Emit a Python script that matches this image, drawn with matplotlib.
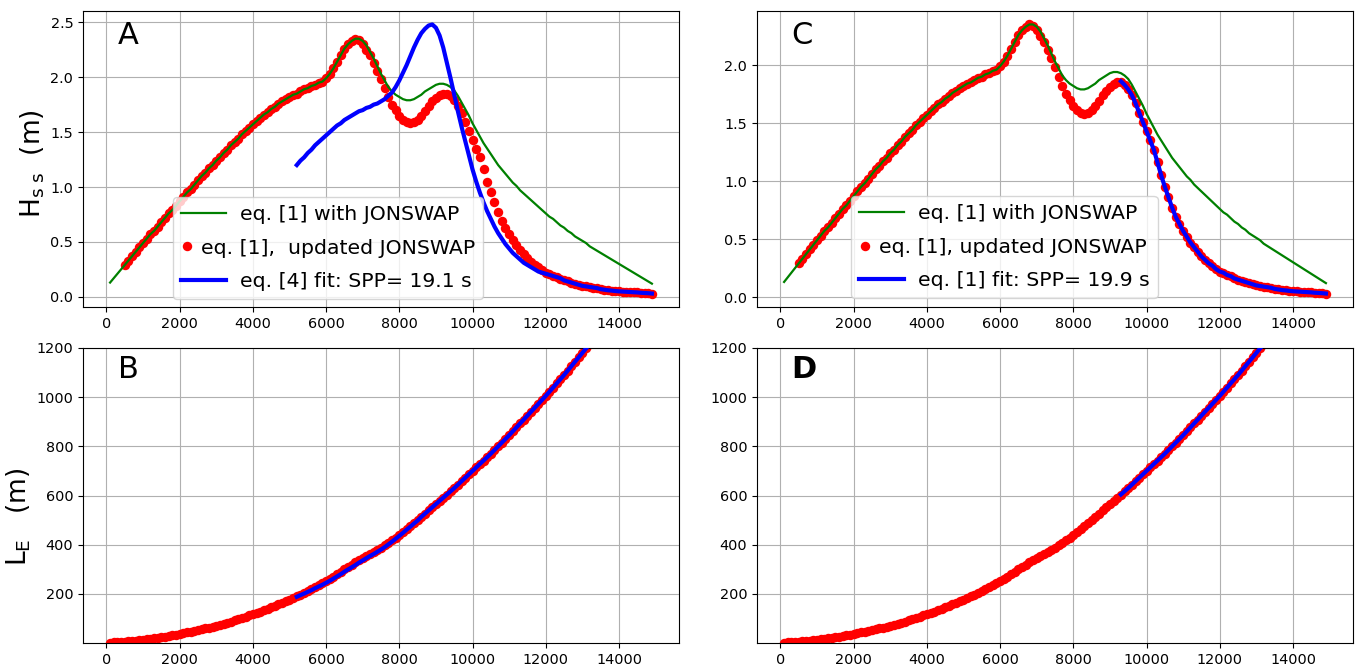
import numpy as np
import matplotlib
matplotlib.use("Agg")
import matplotlib.pyplot as plt
from matplotlib.legend_handler import HandlerLine2D

# ---------------- data ----------------
# distance grid (m)
x_green = np.arange(100, 15000, 100)
x_red = np.arange(500, 15000, 100)

hss_jonswap = [0.13, 0.17, 0.21, 0.25,
    0.29, 0.33, 0.37, 0.41, 0.45, 0.49, 0.53, 0.57, 0.60, 0.64, 0.68, 0.72, 0.76, 0.79, 0.83, 0.87,
    0.91, 0.95, 0.98, 1.02, 1.06, 1.10, 1.13, 1.17, 1.20, 1.24, 1.27, 1.31, 1.34, 1.38, 1.41, 1.44,
    1.48, 1.51, 1.54, 1.57, 1.60, 1.63, 1.66, 1.68, 1.71, 1.73, 1.76, 1.78, 1.80, 1.82, 1.84, 1.85,
    1.87, 1.89, 1.90, 1.92, 1.93, 1.95, 1.96, 1.99, 2.03, 2.08, 2.14, 2.20, 2.26, 2.30, 2.33, 2.35,
    2.35, 2.33, 2.29, 2.23, 2.17, 2.10, 2.03, 1.97, 1.91, 1.87, 1.84, 1.82, 1.80, 1.79, 1.79, 1.80,
    1.82, 1.84, 1.87, 1.89, 1.91, 1.93, 1.94, 1.94, 1.93, 1.91, 1.88, 1.83, 1.77, 1.71, 1.65, 1.58,
    1.52, 1.46, 1.40, 1.35, 1.30, 1.25, 1.20, 1.16, 1.12, 1.08, 1.04, 1.01, 0.97, 0.94, 0.91, 0.88,
    0.85, 0.82, 0.79, 0.76, 0.73, 0.71, 0.68, 0.65, 0.63, 0.60, 0.58, 0.55, 0.53, 0.51, 0.49, 0.46,
    0.44, 0.42, 0.40, 0.38, 0.36, 0.34, 0.32, 0.30, 0.28, 0.26, 0.24, 0.22, 0.20, 0.18, 0.16, 0.14,
    0.12]

hss_updated = [
    0.29, 0.33, 0.37, 0.41, 0.45, 0.49, 0.53, 0.57, 0.60, 0.64, 0.68, 0.72, 0.76, 0.79, 0.83, 0.87,
    0.91, 0.95, 0.98, 1.02, 1.06, 1.10, 1.13, 1.17, 1.20, 1.24, 1.27, 1.31, 1.34, 1.38, 1.41, 1.44,
    1.48, 1.51, 1.54, 1.57, 1.60, 1.63, 1.66, 1.68, 1.71, 1.73, 1.76, 1.78, 1.80, 1.82, 1.84, 1.85,
    1.87, 1.89, 1.90, 1.92, 1.93, 1.95, 1.96, 1.99, 2.03, 2.08, 2.14, 2.20, 2.26, 2.30, 2.33, 2.35,
    2.34, 2.30, 2.25, 2.20, 2.13, 2.06, 1.98, 1.90, 1.82, 1.75, 1.70, 1.65, 1.61, 1.59, 1.58, 1.59,
    1.61, 1.65, 1.69, 1.74, 1.78, 1.81, 1.84, 1.85, 1.85, 1.83, 1.79, 1.74, 1.67, 1.59, 1.51, 1.43,
    1.35, 1.27, 1.16, 1.05, 0.95, 0.86, 0.77, 0.69, 0.63, 0.57, 0.52, 0.47, 0.43, 0.39, 0.35, 0.32,
    0.29, 0.27, 0.24, 0.22, 0.21, 0.19, 0.18, 0.16, 0.15, 0.14, 0.13, 0.12, 0.11, 0.10, 0.095, 0.09,
    0.085, 0.08, 0.07, 0.065, 0.06, 0.057, 0.053, 0.05, 0.048, 0.046, 0.044, 0.042, 0.04, 0.037,
    0.035, 0.033, 0.03]

# eq. [4] fit (panel A)
x_fitA = np.arange(5200, 15000, 100)
hss_fitA = [1.20, 1.24, 1.27, 1.31, 1.34, 1.38, 1.41, 1.44, 1.47, 1.50, 1.53, 1.56, 1.58, 1.61,
    1.63, 1.65, 1.67, 1.69, 1.70, 1.72, 1.73, 1.75, 1.76, 1.78, 1.80, 1.83, 1.86, 1.91, 1.97, 2.04,
    2.11, 2.19, 2.27, 2.34, 2.40, 2.44, 2.47, 2.48, 2.45, 2.38, 2.27, 2.13, 1.99, 1.84, 1.69, 1.55,
    1.42, 1.29, 1.16, 1.05, 0.95, 0.86, 0.78, 0.71, 0.64, 0.58, 0.53, 0.48, 0.44, 0.40, 0.37, 0.34,
    0.31, 0.29, 0.27, 0.25, 0.23, 0.22, 0.21, 0.20, 0.19, 0.18, 0.17, 0.15, 0.14, 0.13, 0.12, 0.11,
    0.10, 0.095, 0.09, 0.085, 0.08, 0.07, 0.065, 0.06, 0.057, 0.053, 0.05, 0.048, 0.046, 0.044,
    0.042, 0.04, 0.037, 0.035, 0.033, 0.03]

# eq. [1] fit (panel C)
x_fitC = np.arange(9300, 15000, 100)
hss_fitC = [1.86, 1.83, 1.79, 1.74, 1.67, 1.59, 1.51, 1.43, 1.35, 1.27, 1.16, 1.05, 0.95, 0.86,
    0.77, 0.69, 0.63, 0.57, 0.52, 0.47, 0.43, 0.39, 0.35, 0.32, 0.29, 0.27, 0.24, 0.22, 0.21, 0.19,
    0.18, 0.16, 0.15, 0.14, 0.13, 0.12, 0.11, 0.10, 0.095, 0.09, 0.085, 0.08, 0.07, 0.065, 0.06,
    0.057, 0.053, 0.05, 0.048, 0.046, 0.044, 0.042, 0.04, 0.037, 0.035, 0.033, 0.03]

# L_E (m)
x_L = np.arange(100, 13400, 100)
L_updated = [2, 3, 4, 5, 6, 7, 9, 10, 12, 13, 15, 17, 19, 22, 24, 26, 29, 31, 34, 37,
    40, 43, 46, 49, 52, 55, 59, 62, 66, 70, 74, 78, 83, 87, 92, 97, 102, 107, 112, 117,
    122, 128, 133, 139, 145, 151, 157, 163, 170, 176, 183, 190, 197, 205, 212, 220, 228, 236, 244, 252,
    261, 270, 279, 289, 299, 309, 319, 329, 338, 347, 355, 363, 371, 379, 388, 397, 407, 417, 428, 440,
    451, 463, 475, 487, 500, 513, 526, 539, 552, 565, 578, 591, 604, 617, 630, 644, 658, 672, 686, 700,
    714, 728, 742, 756, 770, 785, 800, 815, 830, 845, 861, 877, 893, 909, 925, 941, 957, 973, 989, 1005,
    1022, 1039, 1056, 1073, 1090, 1108, 1126, 1144, 1162, 1180, 1198, 1216, 1234]

x_LfitB = np.arange(5200, 13400, 100)
L_fitB = [188, 195, 201, 208, 215, 223, 230, 237, 245, 253, 262, 271, 280, 290, 299, 308, 317, 327,
    336, 345, 354, 362, 371, 380, 390, 401, 412, 424, 436, 448, 461, 473, 486, 498,
    513, 526, 539, 552, 565, 578, 591, 604, 617, 630, 644, 658, 672, 686, 700,
    714, 728, 742, 756, 770, 785, 800, 815, 830, 845, 861, 877, 893, 909, 925, 941, 957, 973, 989, 1005,
    1022, 1039, 1056, 1073, 1090, 1108, 1126, 1144, 1162, 1180, 1198, 1216, 1234]

x_LfitD = np.arange(9300, 13400, 100)
L_fitD = [604, 617, 630, 644, 658, 672, 686, 700,
    714, 728, 742, 756, 770, 785, 800, 815, 830, 845, 861, 877, 893, 909, 925, 941, 957, 973, 989, 1005,
    1022, 1039, 1056, 1073, 1090, 1108, 1126, 1144, 1162, 1180, 1198, 1216, 1234]

xticks = [0, 2000, 4000, 6000, 8000, 10000, 12000, 14000]
L_yticks = [200, 400, 600, 800, 1000, 1200]

lab_green = "      eq. [1] with JONSWAP"
lab_red_A = "eq. [1],  updated JONSWAP"
lab_red_C = "eq. [1], updated JONSWAP"
lab_blue_A = "      eq. [4] fit: SPP= 19.1 s"
lab_blue_C = "      eq. [1] fit: SPP= 19.9 s"

# ---------------- figure ----------------
W, H = 1356, 667
fig = plt.figure(figsize=(W / 100, H / 100), dpi=100)

def ax_at(l, t, r, b):
    return fig.add_axes([l / W, 1 - b / H, (r - l) / W, (b - t) / H])

axA = ax_at(83, 11, 679, 307)
axB = ax_at(83, 348, 679, 643)
axC = ax_at(757, 11, 1353, 307)
axD = ax_at(757, 348, 1353, 643)

TICK_FS = 10.4
LEG_FS = 14.7
MS = 6.8


class LongLine(HandlerLine2D):
    def create_artists(self, legend, orig_handle, xdescent, ydescent, width,
                       height, fontsize, trans):
        return super().create_artists(legend, orig_handle, xdescent, ydescent,
                                      width * 4.0, height, fontsize, trans)


def top_panel(ax, fit_x, fit_y, lab_red, lab_blue, letter, leg_anchor):
    g, = ax.plot(x_green, hss_jonswap, color="green", lw=1.6, zorder=3, label=lab_green)
    r, = ax.plot(x_red, hss_updated, "o", color="red", ms=MS, mew=0, zorder=2, label=lab_red)
    b, = ax.plot(fit_x, fit_y, color="blue", lw=3, zorder=4, label=lab_blue)
    ax.grid(True)
    ax.set_xticks(xticks)
    ax.tick_params(labelsize=TICK_FS)
    ax.text(0.058, 0.965, letter, transform=ax.transAxes, fontsize=22, va="top", ha="left")
    ax.legend(handles=[g, r, b], loc="lower left", bbox_to_anchor=leg_anchor,
              borderaxespad=0, fontsize=LEG_FS, handlelength=0.55, handletextpad=0.4,
              numpoints=1, labelspacing=0.7,
              handler_map={g: LongLine(), b: LongLine()})


def bottom_panel(ax, fit_x, fit_y, letter, weight):
    ax.plot(x_L, L_updated, "o", color="red", ms=MS, mew=0, zorder=2)
    ax.plot(fit_x, fit_y, color="blue", lw=3, zorder=4)
    ax.grid(True)
    ax.set_xticks(xticks)
    ax.set_xlim(-640, 15640)
    ax.set_ylim(0, 1200)
    ax.set_yticks(L_yticks)
    ax.tick_params(labelsize=TICK_FS)
    ax.text(0.058, 0.975, letter, transform=ax.transAxes, fontsize=22, va="top", ha="left",
            fontweight=weight)


top_panel(axA, x_fitA, hss_fitA, lab_red_A, lab_blue_A, "A", (0.151, 0.027))
top_panel(axC, x_fitC, hss_fitC, lab_red_C, lab_blue_C, "C", (0.158, 0.030))
bottom_panel(axB, x_LfitB, L_fitB, "B", "normal")
bottom_panel(axD, x_LfitD, L_fitD, "D", "bold")

axA.set_ylabel(r"H$_{\rm s\ s}$  (m)", fontsize=19)
axA.yaxis.set_label_coords(-0.06, 0.483)
axB.set_ylabel(r"L$_{\rm E}$   (m)", fontsize=19)
axB.yaxis.set_label_coords(-0.084, 0.427)

fig.savefig("out.png", dpi=100)
